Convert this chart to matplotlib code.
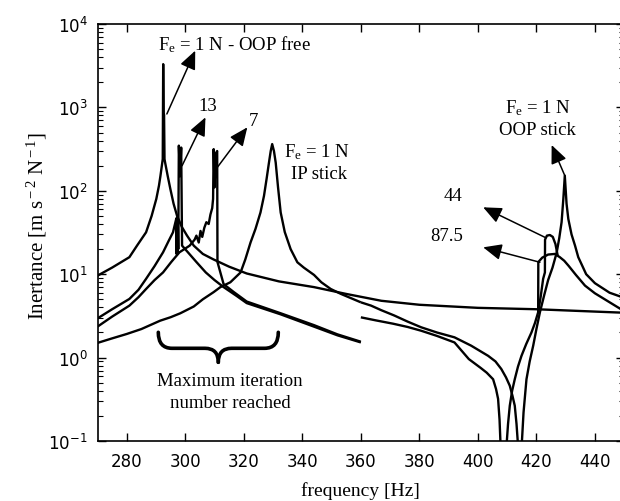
import matplotlib
matplotlib.use('Agg')
import matplotlib.pyplot as plt
from matplotlib.path import Path
from matplotlib.patches import PathPatch
from matplotlib.ticker import LogLocator, FixedLocator, NullFormatter

plt.rcParams['font.family'] = ['DejaVu Sans']
plt.rcParams['mathtext.fontset'] = 'custom'
plt.rcParams['mathtext.rm'] = 'Liberation Serif'
plt.rcParams['mathtext.it'] = 'Liberation Serif:italic'
SERIF = 'Liberation Serif'

# ---------------- data ----------------
freq_oop_free = [270, 275, 280.9, 283.5, 286.6, 288.5, 290.1, 291.0, 291.5, 292.3, 292.45, 292.6,
                 292.75, 292.9, 293.1, 294.0, 294.9, 296.0, 297.2, 298.8, 300.6, 302.9, 306,
                 309.7, 315, 321, 332, 344, 355, 367, 380, 400, 420, 435, 450]
inert_oop_free = [9.6, 12, 16, 22, 31.8, 50, 80, 115, 150, 240, 3300, 800,
                  820, 240, 219, 150, 105, 70, 50, 37, 29, 22, 17.5,
                  15, 12.3, 10.2, 8.2, 7.0, 5.8, 4.8, 4.3, 3.95, 3.8, 3.62, 3.45]

freq_ip_stick = [270, 275, 280, 285, 291.4, 295, 298.3, 302.9, 306, 309.7, 312, 315.4, 318.9,
                 320.5, 322.3, 324, 325.7, 326.9, 327.8, 328.6, 329.2, 329.7, 330.3, 330.9,
                 331.7, 332.6, 334, 336, 338.3, 340.5, 344, 346.5, 349.7, 353.2, 360]
inert_ip_stick = [1.5, 1.7, 1.92, 2.2, 2.77, 3.05, 3.4, 4.1, 5.0, 6.1, 7.0, 8.0, 10.5,
                  15, 24, 35, 55, 87, 140, 218, 300, 363, 300, 218,
                  110, 55, 32, 20, 13.9, 12, 9.8, 8, 6.65, 5.8, 4.6]

freq_oop_stick = [360, 363.5, 367, 371.4, 376, 380.6, 386, 392, 397.7, 403.5, 406, 408, 409.6,
                  410.9, 411.8, 412.6, 413.2, 413.8, 414.3, 414.9, 415.6, 416.6, 417.7, 418.9,
                  420, 421.2, 422.6, 424, 425.5, 426.9, 427.8, 428.6, 429.2, 429.7, 430.3,
                  430.9, 432, 433.2, 434.3, 435.5, 437, 440, 445, 450]
inert_oop_stick = [4.6, 4.2, 3.7, 3.2, 2.7, 2.31, 2.0, 1.75, 1.39, 1.05, 0.9, 0.73, 0.58,
                   0.46, 0.35, 0.265, 0.16, 0.08, 0.02, 0.08, 0.22, 0.55, 0.9, 1.39,
                   2.2, 3.5, 5.5, 8.5, 12, 18, 27, 42, 80, 152, 70,
                   46, 30, 22, 16, 13, 10, 7.8, 6.0, 5.2]

freq_13 = [270, 275, 280.9, 284, 286.6, 289.5, 292.4, 294.3, 295.8, 296.9, 297.0, 297.15,
           297.3, 297.45, 297.6, 297.8, 298.2, 298.6, 298.9, 300.5, 303.8, 307, 310, 313.1,
           317.5, 321, 332.6, 344, 352, 360]
inert_13 = [2.95, 3.8, 5.05, 6.5, 8.8, 12.5, 18.3, 25, 31.8, 46, 17.5, 48,
            17.5, 46, 20, 348, 150, 330, 22, 19, 14, 10.5, 8.5, 7.0,
            5.5, 4.5, 3.3, 2.35, 1.85, 1.52]

freq_7 = [270, 275, 280.9, 284, 286.6, 289.5, 292.4, 295.2, 298, 301.5, 303.2, 303.8, 304.6,
          305.2, 305.8, 306.5, 307.2, 308.0, 308.6, 309.2, 309.5, 309.7, 310.0, 310.4, 310.9,
          311.0, 313.1, 316.6, 321, 332.6, 344, 352, 360]
inert_7 = [2.35, 3.1, 4.2, 5.3, 6.65, 8.5, 10.5, 14, 18.3, 22, 26, 29, 24,
           33, 28, 36, 42, 40, 52, 62, 80, 316, 110, 280, 300,
           14, 7.6, 6.1, 4.7, 3.4, 2.45, 1.9, 1.55]

freq_87_5 = [360, 365, 371, 376, 380.6, 386, 392, 396.9, 401, 403, 405.2, 406.2, 406.9, 407.4,
             407.8, 408.6, 409.7, 410.3, 410.9, 411.7, 412.6, 413.7, 414.9, 416.5, 418.3,
             419.5, 420.6, 420.65, 422, 424, 426.3, 428, 429.5, 431, 433.5, 436.6, 440,
             444.6, 450]
inert_87_5 = [3.04, 2.8, 2.55, 2.33, 2.1, 1.82, 1.52, 0.96, 0.75, 0.66, 0.55, 0.42, 0.32, 0.18,
              0.08, 0.02, 0.08, 0.16, 0.265, 0.4, 0.55, 0.78, 1.05, 1.45, 2.0,
              2.6, 3.5, 14, 15.8, 17.2, 17.5, 16, 14.5, 12.6, 9.8, 7.3, 5.9,
              4.7, 3.6]

freq_44 = [420.6, 421.5, 422.3, 422.9, 422.95, 423.6, 424.6, 425.6, 426.5, 427.3]
inert_44 = [3.5, 5.5, 8.8, 10.5, 26, 29, 29.5, 28, 23, 16.5]

x_ticks = [280, 300, 320, 340, 360, 380, 400, 420, 440]

# ---------------- figure ----------------
W, H = 620, 502
fig = plt.figure(figsize=(W / 100, H / 100), dpi=100)
ax_left, ax_right, ax_top, ax_bot = 97.5, 624.2, 25, 442
ax = fig.add_axes([ax_left / W, (H - ax_bot) / H, (ax_right - ax_left) / W, (ax_bot - ax_top) / H])

lw = 1.7
for fx, vy in [(freq_oop_free, inert_oop_free), (freq_ip_stick, inert_ip_stick),
               (freq_oop_stick, inert_oop_stick), (freq_13, inert_13), (freq_7, inert_7),
               (freq_87_5, inert_87_5), (freq_44, inert_44)]:
    ax.plot(fx, vy, color='k', lw=lw, solid_joinstyle='round', solid_capstyle='butt')

ax.set_yscale('log')
ax.set_xlim(270, 450)
ax.set_ylim(0.1, 1e4)
ax.xaxis.set_major_locator(FixedLocator(x_ticks))
ax.yaxis.set_major_locator(LogLocator(base=10, numticks=10))
ax.yaxis.set_minor_locator(LogLocator(base=10, subs=range(2, 10), numticks=20))
ax.yaxis.set_minor_formatter(NullFormatter())
ax.tick_params(which='both', direction='in', top=True, right=True, labelsize=12)
ax.tick_params(which='major', length=6, width=1.0)
ax.tick_params(which='minor', length=3.5, width=0.8)
ax.tick_params(axis='x', pad=8)
ax.tick_params(axis='y', pad=7)
for sp in ax.spines.values():
    sp.set_linewidth(1.2)

ax.set_xlabel('frequency [Hz]', family=SERIF, fontsize=14, labelpad=8)
fig.text(37 / W, 1 - 226 / H, r'Inertance [m s$^{\rm -2}$ N$^{\rm -1}$]', family=SERIF,
         fontsize=15, rotation=90, ha='center', va='center')

# ---------------- annotations ----------------
tfs = 13.5
def txt(x, y, s, **kw):
    ax.text(x, y, s, family=SERIF, fontsize=tfs, ha='center', va='center', **kw)

txt(316.8, 5754, r'F$_{\rm e}$ = 1 N - OOP free')
txt(307.7, 1047, '13')
txt(323.2, 687, '7')
txt(344.9, 296, r'F$_{\rm e}$ = 1 N')
txt(345.8, 163, 'IP stick')
txt(420.7, 1012, r'F$_{\rm e}$ = 1 N')
txt(420.4, 536, 'OOP stick')
txt(391.6, 89, '44')
txt(389.5, 29.1, '87.5')
txt(315.3, 0.528, 'Maximum iteration')
txt(315.3, 0.286, 'number reached')

aprops = dict(arrowstyle='-|>,head_length=0.8,head_width=0.35', mutation_scale=14,
              lw=1.1, color='k', shrinkA=0, shrinkB=0)
for (x0, y0), (x1, y1) in [((293.7, 834), (303.4, 4786)),
                           ((298.9, 200), (306.9, 760)),
                           ((309.7, 167), (321.2, 577)),
                           ((429.7, 152), (425.2, 354)),
                           ((422.9, 27.7), (401.8, 63.4)),
                           ((421.2, 13.9), (401.8, 21))]:
    ax.annotate('', xy=(x1, y1), xytext=(x0, y0), arrowprops=aprops)

# curly brace (drawn in pixel-derived axes fractions)
def af(px, py):
    return ((px - ax_left) / (ax_right - ax_left), (ax_bot - py) / (ax_bot - ax_top))
lcodes = [Path.MOVETO, Path.CURVE3, Path.CURVE3, Path.LINETO, Path.CURVE3, Path.CURVE3]
left = [af(158.3, 333.3), af(158.3, 349.3), af(172, 349.3), af(205, 349.3),
        af(218.3, 349.3), af(218.3, 363.3)]
right = [af(278.3, 333.3), af(278.3, 349.3), af(264.6, 349.3), af(231.6, 349.3),
         af(218.3, 349.3), af(218.3, 363.3)]
for vv in (left, right):
    ax.add_patch(PathPatch(Path(vv, lcodes), transform=ax.transAxes, fill=False,
                           lw=2.6, color='k', capstyle='round', clip_on=False))

fig.savefig('out.png', dpi=100)
